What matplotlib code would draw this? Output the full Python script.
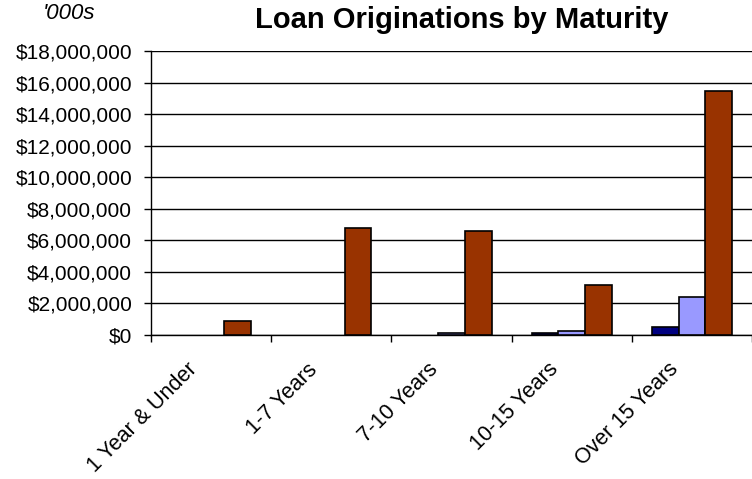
import numpy as np
import matplotlib.pyplot as plt
import matplotlib.transforms as mtransforms
from matplotlib.ticker import FuncFormatter

plt.rcParams['font.family'] = ['Liberation Sans', 'DejaVu Sans']

categories = ["1 Year & Under", "1-7 Years", "7-10 Years", "10-15 Years", "Over 15 Years"]
# values in '000s
series_a = [0, 0, 0, 100000, 500000]
series_b = [0, 0, 100000, 250000, 2400000]
series_c = [900000, 6800000, 6600000, 3200000, 15450000]
colors = ["#000080", "#9999FF", "#993300"]

fig = plt.figure(figsize=(7.52, 4.79), dpi=100)
ax = fig.add_axes([0.2008, 0.3006, 0.7992, 0.5929])

x = np.arange(len(categories))
w = 0.222
for i, (vals, c) in enumerate(zip([series_a, series_b, series_c], colors)):
    vals = np.array(vals, dtype=float)
    keep = vals > 0  # empty bars are not drawn at all
    ax.bar(x[keep] + (i - 1) * w, vals[keep], width=w, color=c,
           edgecolor="black", linewidth=1.2, zorder=3)

ax.set_xlim(-0.5, len(categories) - 0.5)
ax.set_ylim(0, 18000000)
ax.set_yticks(np.arange(0, 18000001, 2000000))
ax.yaxis.set_major_formatter(FuncFormatter(lambda v, p: "${:,.0f}".format(v)))
ax.grid(axis="y", color="black", linewidth=1, zorder=0)

# ticks sit between the groups, labels are placed by hand under each group
ax.set_xticks(np.arange(-0.5, len(categories)))
ax.set_xticklabels([])
ax.tick_params(axis="x", length=5, width=1, direction="out")
ax.tick_params(axis="y", length=5, width=1, labelsize=15, pad=8.5)

shift = mtransforms.ScaledTranslation(-17 / 100, -31.5 / 100, fig.dpi_scale_trans)
trans = mtransforms.blended_transform_factory(ax.transData, ax.transAxes) + shift
for xi, name in zip(x, categories):
    ax.text(xi, 0, name, transform=trans, rotation=45, ha="right", va="center",
            rotation_mode="anchor", fontsize=15.5, clip_on=False)

for s in ["top", "right"]:
    ax.spines[s].set_visible(False)
ax.spines["left"].set_linewidth(1)
ax.spines["bottom"].set_linewidth(1)

fig.text(0.614, 0.958, "Loan Originations by Maturity", fontsize=21, fontweight="bold", ha="center", va="center")
fig.text(0.092, 0.972, "'000s", fontsize=16, style="italic", ha="center", va="center")

fig.savefig("out.png", dpi=100)
